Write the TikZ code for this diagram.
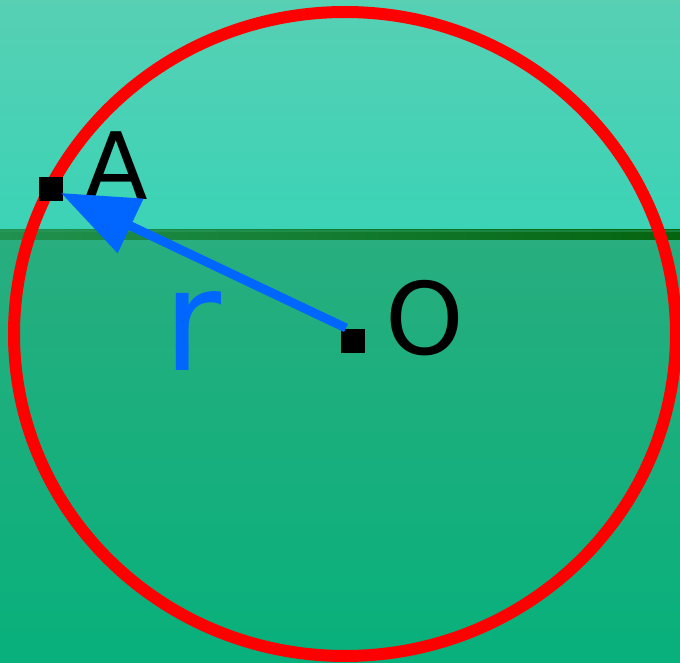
\documentclass[tikz,border=0pt]{standalone}
\usepackage{fontspec}
\setmainfont{DejaVu Sans}
\usetikzlibrary{arrows.meta,calc}
\definecolor{skytop}{HTML}{57D0B4}
\definecolor{skybot}{HTML}{3BD3B6}
\definecolor{bandL}{HTML}{20924F}
\definecolor{bandR}{HTML}{05640F}
\definecolor{bandLt}{HTML}{2A9C62}
\definecolor{grtop}{HTML}{28AE7F}
\definecolor{grbot}{HTML}{08B07B}
\definecolor{arrowblue}{HTML}{0066FF}
\tikzset{
  pointbox/.style={fill=black, draw=none, minimum size=24pt, inner sep=0pt, outer sep=0pt},
  lbl/.style={inner sep=0pt, outer sep=0pt, anchor=base west},
  radius line/.style={draw=arrowblue, line width=9pt, line cap=butt,
    -{Triangle[length=77pt,width=58pt]}, fill=arrowblue}
}
\begin{document}
\begin{tikzpicture}[x=1pt,y=-1pt]
\useasboundingbox (0,0) rectangle (680,663);
\clip (0,0) rectangle (680,663);
% background
\shade[top color=skytop, bottom color=skybot] (0,0) rectangle (680,230);
\shade[top color=grtop, bottom color=grbot] (0,240) rectangle (680,663);
\shade[left color=bandL, right color=bandR] (0,230) rectangle (680,240);
\fill[bandLt, opacity=0.5] (0,230) rectangle (680,232);
% circle
\draw[red, line width=12pt] (345,334) ellipse [x radius=331, y radius=322];
% points
\node[pointbox] (A) at (51,189) {};
\node[pointbox] (O) at (353,341) {};
% labels
\node[lbl, font=\fontsize{93}{93}\selectfont] (lA) at (84,200) {A};
\node[lbl, font=\fontsize{100}{100}\selectfont] (lO) at (385,354) {O};
\node[lbl, font=\fontsize{141}{141}\selectfont, text=arrowblue] (lr) at (163,370) {r};
% radius arrow
\draw[radius line] ($(O.north west)+(5,-1)$) -- ($(A.east)+(-2,4)$);
\end{tikzpicture}
\end{document}
